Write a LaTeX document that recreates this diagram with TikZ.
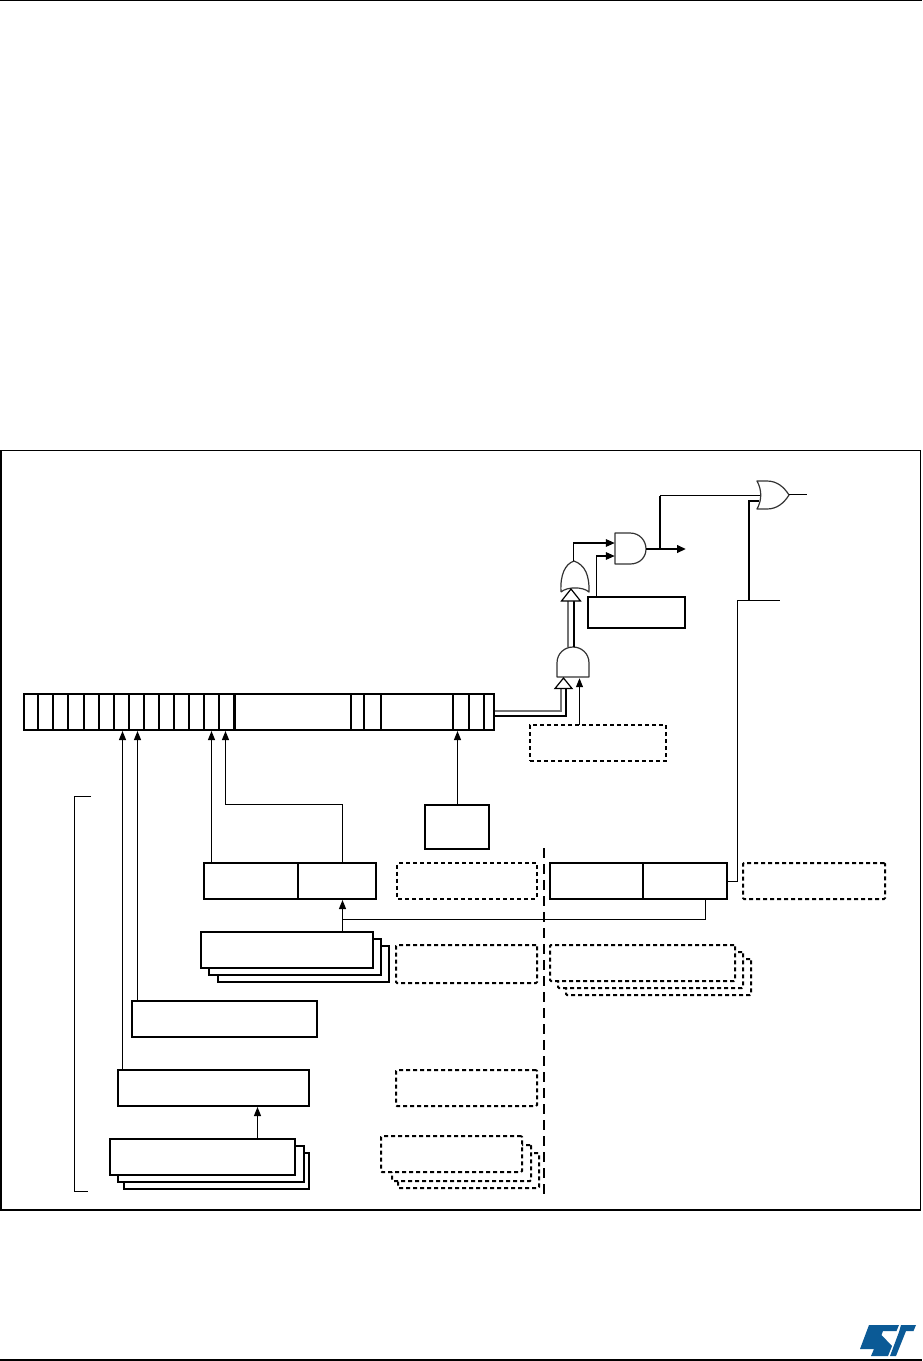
\documentclass[tikz,border=0pt]{standalone}
\usetikzlibrary{arrows.meta,calc}
\definecolor{stblue}{HTML}{0B5A96}
\tikzset{
  solidbox/.style={draw=black,line width=2.3pt,fill=white,inner sep=0pt,outer sep=0pt},
  stackbox/.style={draw=black,line width=2pt,fill=white,inner sep=0pt,outer sep=0pt},
  dashbox/.style={draw=black,line width=2pt,fill=white,inner sep=0pt,outer sep=0pt,dash pattern=on 4pt off 3pt,rounded corners=1pt},
  dashheavy/.style={draw=black,line width=2.8pt,inner sep=0pt,outer sep=0pt,dash pattern=on 4pt off 3pt},
  wire/.style={draw=black,line width=1pt},
  heavywire/.style={draw=black,line width=2.2pt},
  arrowwire/.style={wire,-{Triangle[length=9pt,width=7pt]}},
  heavyarrow/.style={heavywire,-{Triangle[length=9pt,width=7.5pt]}},
  gate/.style={draw=black!80,line width=1.2pt,fill=white,line join=round},
  bitline/.style={draw=black,line width=1.5pt},
  bitheavy/.style={draw=black,line width=2.4pt},
  hollowhead/.style={draw=black,line width=1.2pt,fill=white,line join=miter},
  rail/.style={draw=black,line width=1.2pt},
  railgrey/.style={draw=black!55,line width=1.4pt},
  logo/.style={fill=stblue,draw=none}
}
% \bx{name}{style}{x1}{y1}{x2}{y2}
\newcommand{\bx}[6]{%
  \node[#2,anchor=north west,minimum width=\dimexpr#5pt-#3pt\relax,minimum height=\dimexpr#6pt-#4pt\relax] (#1) at (#3,#4) {};}
\begin{document}
\begin{tikzpicture}[x=1pt,y=-1pt]
\useasboundingbox (0,0) rectangle (922,1361);
\fill[white] (0,0) rectangle (922,1361);
% page rules and figure frame
\draw[line width=1.2pt] (0,0.5) -- (922,0.5);
\draw[line width=1.2pt] (0,1360) -- (922,1360);
\draw[line width=1.1pt] (1,450.5) rectangle (920.5,1210);

% left bracket
\coordinate (brT) at (91,796.5);
\coordinate (brB) at (88,1191.5);
\coordinate (brX) at (74.5,900);
\draw[wire] (brT) -- (brT -| brX) -- (brB -| brX) -- (brB);

% register
\bx{reg}{solidbox}{24}{694}{494}{730}
\foreach \x in {38,53,84,114,129,144,159,174,189,204,219,364,469,484}
  \draw[bitline] (\x,694) -- (\x,730);
\foreach \x in {68,99,234.5,351}
  \draw[bitheavy] (\x,694) -- (\x,730);
\foreach \x in {381,453}
  \draw[bitline,line width=1.9pt] (\x,694) -- (\x,730);

% solid boxes
\bx{cnt}{solidbox}{425}{805}{489}{849}
\bx{pa}{solidbox}{204}{863}{298}{899}
\bx{pb}{solidbox}{298}{863}{376}{899}
\bx{qa}{solidbox}{550}{863}{643}{899}
\bx{qb}{solidbox}{643}{863}{727}{899}
\bx{maskb}{solidbox}{588}{597}{685}{628}
% stack C
\bx{c3}{stackbox}{218}{946}{389}{982}
\bx{c2}{stackbox}{209}{939}{381}{975}
\bx{c1}{solidbox}{201}{932}{373}{968}
\bx{dbox}{solidbox}{132}{1001}{317}{1037}
\bx{ebox}{solidbox}{118}{1070}{309}{1106}
% stack F
\bx{f3}{stackbox}{124}{1153}{309}{1189}
\bx{f2}{stackbox}{118}{1146}{304}{1182}
\bx{f1}{solidbox}{110}{1139}{295}{1175}

% dashed boxes
\bx{ds1}{dashheavy}{530}{725}{666}{761}
\bx{ds2}{dashbox}{397}{863}{537}{899}
\bx{ds3}{dashbox}{743}{863}{885}{899}
\bx{ds4}{dashbox}{396}{945}{537}{983}
\bx{ds5}{dashbox}{396}{1070}{537}{1106}
\bx{ds6c}{dashbox}{398}{1153}{539}{1188}
\bx{ds6b}{dashbox}{392}{1145}{531}{1181}
\bx{ds6a}{dashbox}{381}{1136}{522}{1172}
\bx{ds7c}{dashbox}{566}{959}{751}{995}
\bx{ds7b}{dashbox}{558}{952}{743}{988}
\bx{ds7a}{dashbox}{550}{945}{735}{981}

% centre dashed divider
\coordinate (divT) at (544,848);
\coordinate (divB) at (544,1200);
\draw[line width=2.4pt,dash pattern=on 10pt off 6pt] (divT) -- (divB);

% arrows into register
\coordinate (r1) at (122.5,731);
\coordinate (r2) at (137.5,731);
\coordinate (r3) at (211.5,731);
\coordinate (r4) at (225.5,731);
\coordinate (r5) at (457.5,731);
\coordinate (bend) at (342.5,804.5);
\draw[arrowwire] (r1 |- ebox.north) -- (r1);
\draw[arrowwire] (r2 |- dbox.north) -- (r2);
\draw[arrowwire] (r3 |- pa.north) -- (r3);
\draw[arrowwire] (bend |- pb.north) -- (bend) -- (bend -| r4) -- (r4);
\draw[arrowwire] (r5 |- cnt.north) -- (r5);

% stack connectors
\coordinate (ea) at (257.5,1107);
\draw[arrowwire] (ea |- f1.north) -- (ea);
\coordinate (pt) at (342.5,900);
\coordinate (qt) at (705.5,919.5);
\draw[arrowwire] (pt |- c1.north) -- (pt);
\draw[wire] (qt |- qb.south) -- (qt) -- (qt -| pt);

% output bus from qb to the OR gate
\coordinate (busX) at (737.5,600.5);
\coordinate (busEnd) at (780,600.5);
\coordinate (orIn2) at (759,501);
\coordinate (heavyX) at (749,600.5);
\draw[wire] (qb.east) -- (qb.east -| busX) -- (busX) -- (busEnd);

% gates
\path[gate] (615,533) -- (630,533) .. controls (640,533) and (646,541) .. (646,549) .. controls (646,557) and (640,564) .. (630,564) -- (615,564) -- cycle;
\node[inner sep=0pt,minimum size=0pt] (andOut) at (646,549) {};
\node[inner sep=0pt,minimum size=0pt] (andA) at (615,543) {};
\node[inner sep=0pt,minimum size=0pt] (andB) at (615,556) {};
\path[gate] (561,592) .. controls (567,586.5) and (583,586.5) .. (589,592) .. controls (589.5,575) and (585,565) .. (574,561) .. controls (565,564) and (560,575) .. (561,592);
\node[inner sep=0pt,minimum size=0pt] (orTop) at (573.5,561) {};
\path[gate] (557,677) -- (557,663) .. controls (557,653) and (565,647) .. (573,647) .. controls (581,647) and (589,653) .. (589,663) -- (589,677) -- cycle;
\node[inner sep=0pt,minimum size=0pt] (lowIn) at (579.5,678) {};
\path[gate] (757,481) .. controls (762,490) and (762,500) .. (757,509) -- (767,509) .. controls (777,509) and (784,503) .. (789,495) .. controls (784,487) and (777,481) .. (767,481) -- cycle;
\node[inner sep=0pt,minimum size=0pt] (xorOut) at (789,494.5) {};
\coordinate (xorEnd) at (807,494.5);
\draw[wire] (xorOut) -- (xorEnd);

% AND -> output, OR feedback
\coordinate (andEnd) at (686,549);
\coordinate (tapX) at (660,549);
\coordinate (xorIn1) at (759.5,495.5);
\draw[heavyarrow] (andOut) -- (andEnd);
\draw[heavywire] (tapX) -- (tapX |- xorIn1);
\draw[wire] (tapX |- xorIn1) -- (xorIn1);
\draw[heavywire] (heavyX) -- (heavyX |- orIn2) -- (orIn2);

% inputs of top AND
\draw[heavyarrow,line width=1.5pt] (orTop) -- (orTop |- andA) -- (andA);
\coordinate (mX) at (596.5,597);
\draw[heavyarrow,line width=1.5pt] (mX) -- (mX |- andB) -- (andB);

% hollow bus: low AND to mid OR
\draw[railgrey] (568,647) -- (568,601);
\draw[rail] (574,647) -- (574,601);
\path[hollowhead] (571,589) -- (580.5,601) -- (561.5,601) -- cycle;

% hollow bus: register to low AND
\draw[railgrey] (495,711) -- (561,711) -- (561,689);
\draw[rail] (495,716) -- (566,716) -- (566,689);
\path[hollowhead] (563.5,678) -- (572,688.5) -- (555,688.5) -- cycle;

% masked input from dashed box
\draw[arrowwire] (lowIn |- ds1.north) -- (lowIn);

% ST logo
\fill[logo] (869,1325) -- (899,1325) -- (896.5,1331) -- (883,1331) -- (881.5,1335) -- (892,1346) -- (888,1356) -- (871,1356) -- (874,1349) -- (860,1349) -- cycle;
\fill[logo] (901,1325) -- (916,1325) -- (913.5,1331) -- (906,1331) -- (896,1356) -- (890,1356) -- (899,1332) -- cycle;
\end{tikzpicture}
\end{document}
